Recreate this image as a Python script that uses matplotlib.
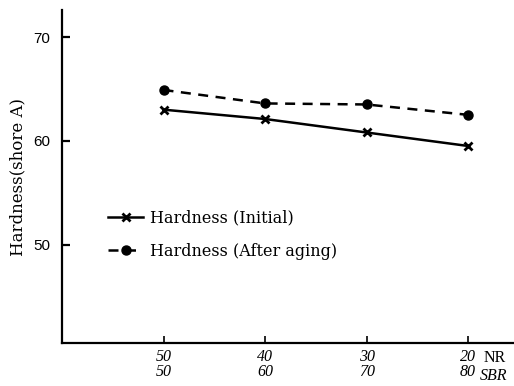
import matplotlib
matplotlib.use("Agg")
import matplotlib.pyplot as plt
from matplotlib.transforms import blended_transform_factory

nr = [50, 40, 30, 20]
sbr = [50, 60, 70, 80]
positions = [1, 2, 3, 4]
initial = [63.0, 62.1, 60.8, 59.5]
aged = [64.9, 63.6, 63.5, 62.5]
yticks = [50, 60, 70]

fig = plt.figure(figsize=(5.14, 3.86), dpi=100)
ax = fig.add_axes([0.1206, 0.111, 0.879, 0.863])

ax.plot(positions, initial, color="black", lw=1.8, ls="-", marker="x",
        ms=6, mew=2, label="Hardness (Initial)")
ax.plot(positions, aged, color="black", lw=1.8, ls=(0, (4, 3)), marker="o",
        ms=6.5, label="Hardness (After aging)")

ax.set_xlim(0, 4.45)
ax.set_ylim(40.5, 72.6)
for s in ["top", "right"]:
    ax.spines[s].set_visible(False)
for s in ["left", "bottom"]:
    ax.spines[s].set_linewidth(1.6)

ax.set_yticks(yticks)
ax.set_yticklabels([str(v) for v in yticks], family="Liberation Sans", fontsize=11)
ax.tick_params(axis="y", direction="in", length=6, width=1.6, pad=8.5)
ax.set_xticks(positions)
ax.set_xticklabels([f"{a}\n{b}" for a, b in zip(nr, sbr)],
                   family="Liberation Serif", style="italic", fontsize=11.5,
                   linespacing=0.95)
ax.tick_params(axis="x", direction="in", length=5, width=1.2, pad=4)

tr = blended_transform_factory(ax.transData, ax.transAxes)
ax.text(4.15, -0.022, "NR", transform=tr, family="Liberation Serif",
        fontsize=11.5, va="top", ha="left")
ax.text(4.12, -0.075, "SBR", transform=tr, family="Liberation Serif",
        style="italic", fontsize=11.5, va="top", ha="left")

ax.set_ylabel("Hardness(shore A)", family="DejaVu Serif", fontsize=12,
              labelpad=5)

leg = ax.legend(loc="upper left", bbox_to_anchor=(0.07, 0.445), frameon=False,
                prop={"family": "DejaVu Serif", "size": 11.5},
                handlelength=2.2, handletextpad=0.4, labelspacing=1.05)

fig.savefig("out.png", dpi=100)
